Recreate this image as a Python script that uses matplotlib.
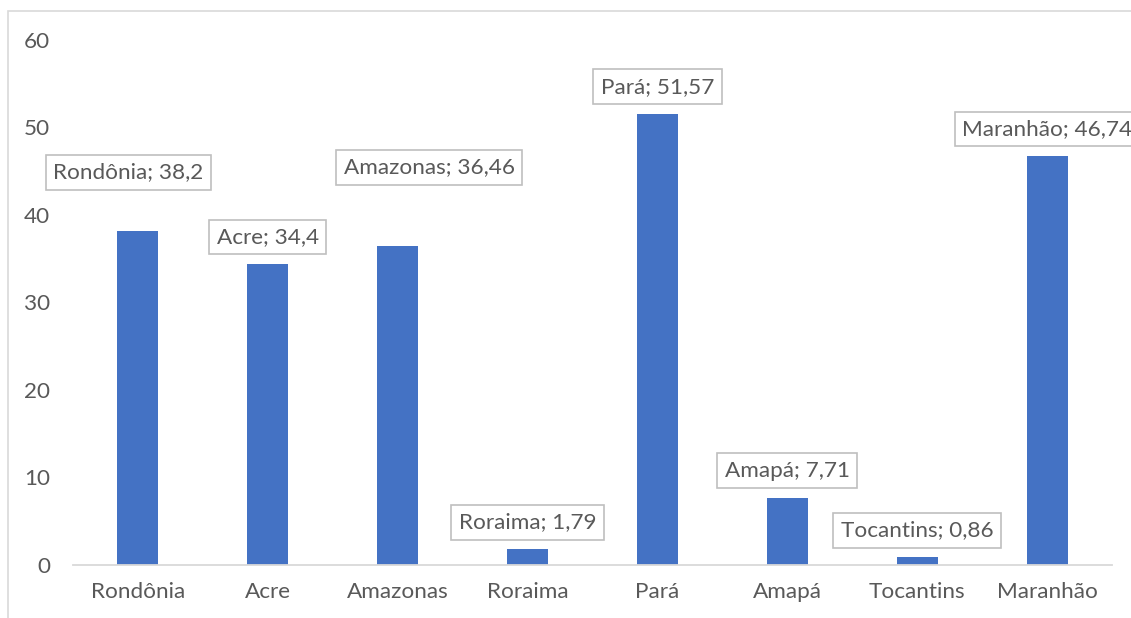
import matplotlib.pyplot as plt
from matplotlib.patches import Rectangle

# Valores por estado
estados = ['Rondônia', 'Acre', 'Amazonas', 'Roraima', 'Pará', 'Amapá', 'Tocantins', 'Maranhão']
valores = [38.2, 34.4, 36.46, 1.79, 51.57, 7.71, 0.86, 46.74]
rotulos = ['38,2', '34,4', '36,46', '1,79', '51,57', '7,71', '0,86', '46,74']

# deslocamento extra dos rótulos (pixels) - os dois que foram arrastados no gráfico
desloc_x = [-9.5, 0, 31.5, 0, 0, 0, 0, 0]
desloc_y = [31.5, 0, 51.5, 0, 0, 0, 0, 0]

AZUL = '#4472C4'
CINZA_TXT = '#595959'
CINZA_LINHA = '#D9D9D9'
TAM = 16.2

plt.rcParams['font.family'] = ['Lato', 'DejaVu Sans']

fig = plt.figure(figsize=(11.31, 6.18), dpi=100)
ax = fig.add_axes([0.0645, 0.0858, 0.9187, 0.8495])

x = range(len(estados))
ax.bar(x, valores, width=0.315, color=AZUL, zorder=2)

for i, v in enumerate(valores):
    ax.annotate(f'{estados[i]}; {rotulos[i]}', xy=(i, v),
                xytext=(desloc_x[i], 27 + desloc_y[i]), textcoords='offset pixels',
                ha='center', va='center', fontsize=TAM, color=CINZA_TXT,
                bbox=dict(boxstyle='square,pad=0.33', fc='white', ec='#BFBFBF', lw=1.2),
                annotation_clip=False, zorder=3)

ax.set_xlim(-0.5, 7.5)
ax.set_ylim(0, 60)
ax.set_yticks(range(0, 61, 10))
ax.set_xticks(list(x))
ax.set_xticklabels(estados)

for s in ['top', 'right', 'left']:
    ax.spines[s].set_visible(False)
ax.spines['bottom'].set_color(CINZA_LINHA)
ax.spines['bottom'].set_linewidth(1.3)

ax.tick_params(axis='both', length=0, labelsize=TAM, labelcolor=CINZA_TXT)
ax.tick_params(axis='x', pad=12)
ax.tick_params(axis='y', pad=16.5)

# contorno da área do gráfico
fig.patches.append(Rectangle((0.0071, -0.1), 1.2, 1.082, transform=fig.transFigure,
                             fill=False, ec=CINZA_LINHA, lw=1.2))

fig.savefig('out.png', dpi=100)
